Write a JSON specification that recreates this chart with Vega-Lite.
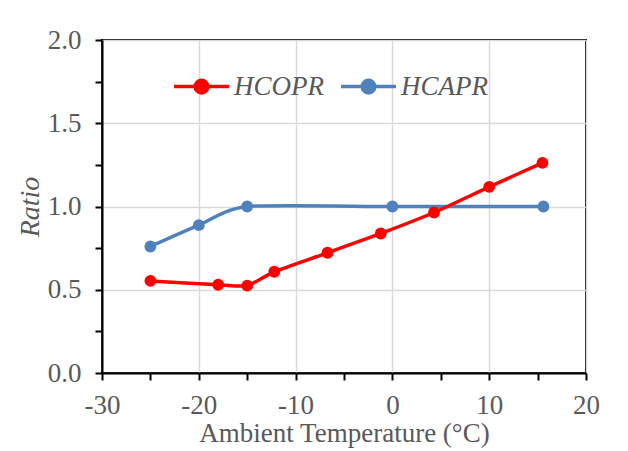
{
  "$schema": "https://vega.github.io/schema/vega-lite/v6.json",
  "width": 484,
  "height": 333,
  "autosize": {"type": "none"},
  "padding": {"left": 102, "top": 40, "right": 42, "bottom": 78},
  "background": "white",
  "config": {
    "view": {"stroke": "black", "strokeWidth": 2},
    "font": "Liberation Serif"
  },
  "data": {
    "values": [
      {"series": "HCAPR", "temp": -25, "ratio": 0.76},
      {"series": "HCAPR", "temp": -20, "ratio": 0.888},
      {"series": "HCAPR", "temp": -15, "ratio": 1.0},
      {"series": "HCAPR", "temp": 0, "ratio": 1.0},
      {"series": "HCAPR", "temp": 15.6, "ratio": 1.0},
      {"series": "HCOPR", "temp": -25, "ratio": 0.553},
      {"series": "HCOPR", "temp": -18, "ratio": 0.53},
      {"series": "HCOPR", "temp": -15, "ratio": 0.525},
      {"series": "HCOPR", "temp": -12.2, "ratio": 0.608},
      {"series": "HCOPR", "temp": -6.7, "ratio": 0.722},
      {"series": "HCOPR", "temp": -1.2, "ratio": 0.838},
      {"series": "HCOPR", "temp": 4.3, "ratio": 0.964},
      {"series": "HCOPR", "temp": 10.0, "ratio": 1.118},
      {"series": "HCOPR", "temp": 15.5, "ratio": 1.262}
    ]
  },
  "mark": {
    "type": "line",
    "interpolate": "cardinal",
    "tension": 0.35,
    "strokeWidth": 3.5,
    "point": {"filled": true, "size": 140, "opacity": 1}
  },
  "encoding": {
    "x": {
      "field": "temp",
      "type": "quantitative",
      "scale": {"domain": [-30, 20], "nice": false, "zero": false},
      "axis": {
        "title": "Ambient Temperature (°C)",
        "values": [-30, -25, -20, -15, -10, -5, 0, 5, 10, 15, 20],
        "labelExpr": "datum.value % 10 === 0 ? '' + datum.value : ''",
        "grid": true,
        "gridColor": "#d9d9d9",
        "gridWidth": 1.5,
        "gridOpacity": {"condition": {"test": "datum.value % 10 === 0", "value": 1}, "value": 0},
        "domainColor": "black",
        "domainWidth": 2,
        "tickColor": "black",
        "tickWidth": 2,
        "tickSize": 7,
        "labelPadding": 12,
        "labelFontSize": 27,
        "labelColor": "#595959",
        "labelFlush": false,
        "labelOverlap": false,
        "titleFontSize": 27,
        "titleColor": "#595959",
        "titleFontWeight": "normal",
        "titlePadding": 2
      }
    },
    "y": {
      "field": "ratio",
      "type": "quantitative",
      "scale": {"domain": [0, 2], "nice": false},
      "axis": {
        "title": "Ratio",
        "values": [0, 0.25, 0.5, 0.75, 1, 1.25, 1.5, 1.75, 2],
        "labelExpr": "datum.value % 0.5 === 0 ? format(datum.value, '.1f') : ''",
        "grid": true,
        "gridColor": "#d9d9d9",
        "gridWidth": 1.5,
        "gridOpacity": {"condition": {"test": "datum.value % 0.5 === 0", "value": 1}, "value": 0},
        "domainColor": "black",
        "domainWidth": 2,
        "tickColor": "black",
        "tickWidth": 2,
        "tickSize": 7,
        "labelPadding": 14,
        "labelFontSize": 27,
        "labelColor": "#595959",
        "labelFlush": false,
        "labelOverlap": false,
        "titleFontSize": 28,
        "titleFontStyle": "italic",
        "titleColor": "#595959",
        "titleFontWeight": "normal",
        "titlePadding": 3
      }
    },
    "color": {
      "field": "series",
      "type": "nominal",
      "scale": {"domain": ["HCOPR", "HCAPR"], "range": ["#ff0000", "#4f81bd"]},
      "legend": {
        "title": null,
        "orient": "none",
        "legendX": 70,
        "legendY": 17,
        "direction": "horizontal",
        "padding": 0,
        "labelFont": "Liberation Serif",
        "labelFontStyle": "italic",
        "labelFontSize": 27,
        "labelColor": "#595959",
        "labelOffset": 3,
        "labelLimit": 0,
        "columnPadding": 10,
        "symbolType": "M-1,0L1,0M0.23,0A0.23,0.23,0,1,1,-0.23,0A0.23,0.23,0,1,1,0.23,0Z",
        "symbolSize": 3025,
        "symbolStrokeWidth": 3.5,
        "encode": {
          "symbols": {
            "update": {
              "fill": {"scale": "color", "field": "value"},
              "stroke": {"scale": "color", "field": "value"},
              "opacity": {"value": 1},
              "fillOpacity": {"value": 1},
              "strokeOpacity": {"value": 1}
            }
          }
        }
      }
    }
  }
}
